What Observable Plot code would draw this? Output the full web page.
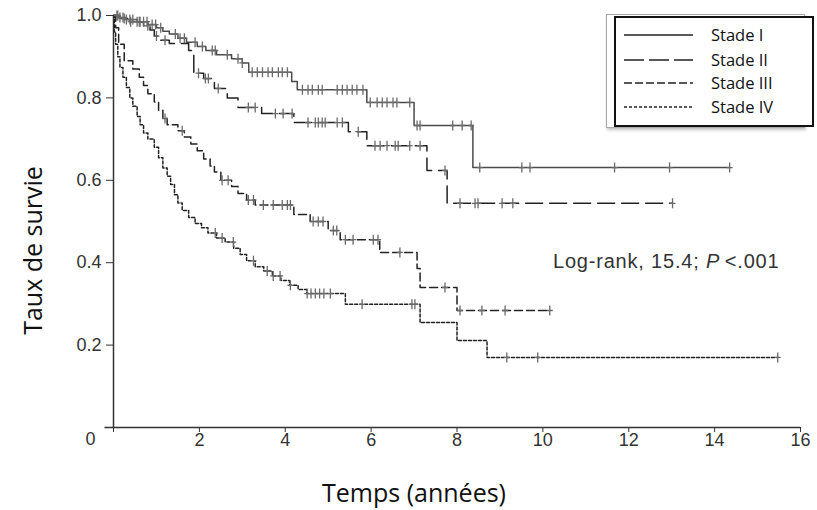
<!DOCTYPE html>
<html><head><meta charset="utf-8">
<script src="https://cdn.jsdelivr.net/npm/d3@7"></script>
<script src="https://cdn.jsdelivr.net/npm/@observablehq/plot@0.6"></script>
<style>
body{margin:0;background:#fff;}
#wrap{position:relative;width:817px;height:510px;overflow:hidden;}
#lgBack{position:absolute;left:606px;top:14px;width:197px;height:112px;border:1.5px solid #aaa;background:#fff;box-shadow:1px 2px 3px rgba(0,0,0,0.25);}
#lgFront{position:absolute;left:614px;top:16px;width:196px;height:107px;border:2px solid #111;background:#fff;}
.lgRow{position:absolute;left:0;height:22px;font-family:"Open Sans",sans-serif;font-size:16.5px;color:#111;}
.lgRow svg{position:absolute;left:7px;top:5px;}
.lgRow span{position:absolute;left:95px;top:0;white-space:nowrap;line-height:22px;}
#logrank{position:absolute;left:553px;top:249px;font-family:"Liberation Sans",Arial,sans-serif;font-size:20px;letter-spacing:0.8px;color:#333;white-space:nowrap;line-height:24px;}
</style></head><body><div id="wrap"></div>
<script>
// Stage names
const stages = ["Stade I", "Stade II", "Stade III", "Stade IV"];

// Step curves (time in years, survival)
const stage1T = [0, 0.1, 0.3, 0.55, 0.8, 1.0, 1.15, 1.3, 1.5, 1.7, 1.95, 2.15, 2.4, 2.75, 3.0, 3.15, 4.15, 4.28, 5.9, 7.0, 8.37, 14.35];
const stage1S = [1.0, 0.995, 0.99, 0.985, 0.978, 0.97, 0.962, 0.955, 0.945, 0.935, 0.925, 0.915, 0.905, 0.895, 0.885, 0.862, 0.84, 0.82, 0.789, 0.733, 0.631, 0.631];

const stage2T = [0, 0.15, 0.4, 0.7, 0.85, 0.95, 1.1, 1.3, 1.75, 1.87, 2.1, 2.35, 2.65, 2.9, 3.45, 4.2, 5.47, 5.9, 7.3, 7.77, 13.02];
const stage2S = [1.0, 0.993, 0.985, 0.975, 0.965, 0.95, 0.94, 0.932, 0.915, 0.86, 0.847, 0.823, 0.80, 0.777, 0.762, 0.74, 0.718, 0.684, 0.624, 0.544, 0.544];

const stage3T = [0, 0.05, 0.12, 0.25, 0.45, 0.6, 0.7, 0.8, 0.95, 1.05, 1.15, 1.25, 1.5, 1.65, 1.8, 1.95, 2.1, 2.25, 2.35, 2.5, 2.75, 2.9, 3.1, 3.3, 4.2, 4.58, 5.0, 5.28, 6.2, 7.07, 7.14, 8.0, 10.16];
const stage3S = [1.0, 0.97, 0.93, 0.89, 0.87, 0.85, 0.83, 0.81, 0.79, 0.77, 0.75, 0.735, 0.72, 0.705, 0.688, 0.672, 0.652, 0.635, 0.62, 0.60, 0.585, 0.568, 0.552, 0.54, 0.517, 0.50, 0.478, 0.456, 0.425, 0.386, 0.34, 0.284, 0.284];

const stage4T = [0, 0.02, 0.05, 0.1, 0.15, 0.22, 0.3, 0.38, 0.45, 0.55, 0.62, 0.7, 0.8, 0.95, 1.05, 1.15, 1.25, 1.33, 1.42, 1.5, 1.6, 1.75, 1.9, 2.05, 2.2, 2.4, 2.6, 2.8, 2.95, 3.1, 3.3, 3.5, 3.7, 3.9, 4.1, 4.3, 4.5, 5.4, 7.14, 8.0, 8.7, 15.47];
const stage4S = [1.0, 0.96, 0.93, 0.90, 0.874, 0.85, 0.825, 0.80, 0.78, 0.755, 0.735, 0.715, 0.70, 0.68, 0.655, 0.63, 0.61, 0.59, 0.565, 0.545, 0.527, 0.51, 0.495, 0.485, 0.472, 0.46, 0.45, 0.435, 0.42, 0.405, 0.39, 0.38, 0.368, 0.357, 0.345, 0.335, 0.325, 0.299, 0.255, 0.211, 0.17, 0.17];

// Censored observations (time in years)
const cens1 = [0.08, 0.15, 0.22, 0.3, 0.38, 0.45, 0.55, 0.62, 0.7, 0.78, 0.9, 0.98, 1.1, 1.44, 1.55, 1.65, 1.9, 2.07, 2.3, 2.37, 2.65, 2.9, 3.0, 3.23, 3.35, 3.47, 3.6, 3.7, 3.84, 3.93, 4.05, 4.4, 4.53, 4.63, 4.77, 4.86, 5.21, 5.33, 5.44, 5.56, 5.67, 5.81, 5.98, 6.14, 6.26, 6.37, 6.51, 6.6, 6.9, 7.07, 7.14, 7.9, 8.12, 8.33, 8.53, 9.51, 9.7, 11.67, 12.95, 14.35];
const cens2 = [0.1, 0.25, 0.4, 0.6, 0.8, 1.0, 1.2, 1.98, 2.14, 2.21, 2.44, 3.14, 3.3, 3.77, 3.95, 4.16, 4.53, 4.7, 4.77, 4.86, 4.93, 5.21, 5.33, 5.7, 6.09, 6.21, 6.37, 6.56, 6.63, 6.9, 7.14, 7.72, 8.07, 8.42, 8.49, 9.05, 9.3, 13.02];
const cens3 = [1.2, 1.6, 2.53, 2.67, 3.14, 3.26, 3.49, 3.72, 3.93, 4.05, 4.12, 4.65, 4.77, 4.88, 5.12, 5.2, 5.4, 5.58, 6.05, 6.16, 6.67, 7.72, 8.07, 8.58, 9.12, 10.16];
const cens4 = [2.37, 2.53, 2.79, 3.26, 3.58, 3.72, 3.88, 4.12, 4.51, 4.6, 4.7, 4.8, 4.9, 5.05, 5.79, 6.95, 7.02, 9.16, 9.88, 15.47];

// Axis ticks
const xTicks = [0, 2, 4, 6, 8, 10, 12, 14, 16];
const yTicks = [0.2, 0.4, 0.6, 0.8, 1.0];

const curves = [
  {name: stages[0], T: stage1T, S: stage1S, C: cens1, color: "#4a4a4a", dash: null},
  {name: stages[1], T: stage2T, S: stage2S, C: cens2, color: "#222", dash: "17,7"},
  {name: stages[2], T: stage3T, S: stage3S, C: cens3, color: "#222", dash: "8,4"},
  {name: stages[3], T: stage4T, S: stage4S, C: cens4, color: "#222", dash: "3,2"}
];

function survAt(T, S, t) {
  let v = S[0];
  for (let i = 0; i < T.length; i++) if (T[i] <= t + 1e-9) v = S[i];
  return v;
}

const plusSym = {draw(ctx) { ctx.moveTo(0, -5); ctx.lineTo(0, 5); ctx.moveTo(-3, 0); ctx.lineTo(3, 0); }};

const marks = [];
marks.push(Plot.ruleY([0], {x1: -0.2, x2: 16, stroke: "#333", strokeWidth: 1.5}));
marks.push(Plot.ruleX([0], {y1: 0, y2: 1, stroke: "#333", strokeWidth: 1.5}));
for (const c of curves) {
  const rows = c.T.map((t, i) => ({t, s: c.S[i]}));
  marks.push(Plot.line(rows, {x: "t", y: "s", curve: "step-after", stroke: c.color, strokeWidth: 1.5, strokeDasharray: c.dash}));
}
for (const c of curves) {
  const pts = c.C.map(t => ({t, s: survAt(c.T, c.S, t)}));
  marks.push(Plot.dot(pts, {x: "t", y: "s", symbol: plusSym, r: 3, stroke: "#6a6a6a", strokeWidth: 1.3, fill: "none"}));
}
marks.push(Plot.axisX({ticks: xTicks, tickFormat: d => d === 0 ? "" : String(d), tickSize: 5, tickPadding: 1, stroke: "#333", label: null}));
marks.push(Plot.axisY({ticks: yTicks, tickFormat: d3.format(".1f"), tickSize: 7, tickPadding: 5, stroke: "#333", label: null}));
marks.push(Plot.text(["0"], {frameAnchor: "bottom-left", lineAnchor: "top", textAnchor: "middle", dx: -23, dy: 5, fontSize: 18, fill: "#333"}));
marks.push(Plot.text(["Temps (années)"], {frameAnchor: "bottom", lineAnchor: "middle", textAnchor: "middle", dx: -43, dy: 66, fontSize: 25, fill: "#111", fontFamily: "Open Sans"}));
marks.push(Plot.text(["Taux de survie"], {frameAnchor: "left", lineAnchor: "middle", textAnchor: "middle", rotate: -90, dx: -80, dy: 29, fontSize: 25, fill: "#111", fontFamily: "Open Sans"}));

const chart = Plot.plot({
  width: 817, height: 510,
  marginLeft: 113, marginRight: 17, marginTop: 15, marginBottom: 83,
  x: {domain: [0, 16]},
  y: {domain: [0, 1]},
  style: {fontFamily: "Liberation Sans, Arial, sans-serif", fontSize: "18px", color: "#333", background: "#fff"},
  marks
});
const wrap = document.getElementById("wrap");
wrap.appendChild(chart);

// Legend (HTML overlay)
const back = document.createElement("div"); back.id = "lgBack"; wrap.appendChild(back);
const front = document.createElement("div"); front.id = "lgFront"; wrap.appendChild(front);
const legendDash = [null, "20,5", "8,3", "3,2"];
const rowTops = [6, 31, 54, 78];
curves.forEach((c, i) => {
  const row = document.createElement("div");
  row.className = "lgRow";
  row.style.top = rowTops[i] + "px";
  row.innerHTML = `<svg width="72" height="12"><line x1="1" x2="70" y1="6" y2="6" stroke="#222" stroke-width="1.3" ${legendDash[i] ? `stroke-dasharray="${legendDash[i]}"` : ""}/></svg><span>${c.name}</span>`;
  front.appendChild(row);
});

const lr = document.createElement("div");
lr.id = "logrank";
lr.innerHTML = "Log-rank, 15.4; <i>P</i>&thinsp;&lt;.001";
wrap.appendChild(lr);
</script>
</body></html>
